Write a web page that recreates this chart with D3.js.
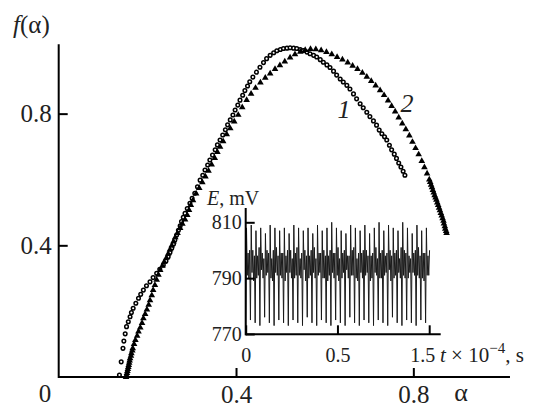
<!DOCTYPE html>
<html>
<head>
<meta charset="utf-8">
<script src="https://cdn.jsdelivr.net/npm/d3@7"></script>
<style>
  body { margin: 0; background: #fff; }
  svg text { font-family: "Liberation Serif", "Times New Roman", serif; fill: #222; }
</style>
</head>
<body>
<div id="vis"></div>
<script>
// curve 1 (open circles): alpha / f(alpha)
const curve1Alpha = [0.137,0.141,0.145,0.147,0.150,0.153,0.157,0.161,0.164,0.168,0.174,0.180,0.185,0.191,0.198,0.206,0.213,0.221,0.228,0.236,
  0.242,0.247,0.251,0.255,0.259,0.262,0.266,0.270,0.274,0.277,0.281,0.285,0.290,0.296,0.301,0.307,0.313,0.319,0.325,0.330,
  0.336,0.341,0.347,0.353,0.358,0.364,0.370,0.376,0.381,0.387,0.393,0.398,0.404,0.409,0.415,0.420,0.426,0.431,0.438,0.446,
  0.454,0.462,0.469,0.477,0.485,0.492,0.500,0.507,0.515,0.522,0.530,0.537,0.545,0.552,0.560,0.567,0.575,0.582,0.590,0.597,
  0.605,0.612,0.620,0.627,0.635,0.642,0.650,0.657,0.665,0.672,0.680,0.687,0.695,0.702,0.710,0.717,0.723,0.729,0.735,0.740,
  0.746,0.751,0.757,0.762,0.767,0.772,0.777,0.781];
const curve1F = [0.006,0.046,0.087,0.109,0.131,0.153,0.168,0.183,0.196,0.209,0.224,0.239,0.251,0.264,0.277,0.289,0.302,0.315,0.327,0.340,
  0.352,0.365,0.378,0.391,0.404,0.416,0.431,0.446,0.459,0.472,0.485,0.497,0.512,0.528,0.543,0.558,0.578,0.598,0.613,0.629,
  0.644,0.659,0.674,0.690,0.705,0.720,0.735,0.751,0.766,0.781,0.796,0.811,0.826,0.841,0.856,0.870,0.884,0.897,0.911,0.926,
  0.941,0.955,0.967,0.977,0.985,0.991,0.995,0.998,0.999,1.000,0.999,0.998,0.995,0.992,0.987,0.982,0.977,0.972,0.964,0.956,
  0.948,0.940,0.929,0.917,0.905,0.896,0.886,0.875,0.860,0.845,0.830,0.818,0.804,0.791,0.778,0.765,0.750,0.739,0.730,0.720,
  0.704,0.690,0.677,0.664,0.650,0.638,0.625,0.613];

// curve 2 (filled triangles)
const curve2Alpha = [0.152,0.153,0.154,0.155,0.156,0.157,0.158,0.159,0.160,0.161,0.163,0.164,0.166,0.167,0.170,0.173,0.177,0.180,0.184,0.188,
  0.191,0.195,0.199,0.203,0.206,0.210,0.213,0.217,0.221,0.225,0.229,0.234,0.238,0.243,0.247,0.251,0.255,0.259,0.263,0.268,
  0.274,0.279,0.285,0.290,0.294,0.298,0.303,0.310,0.317,0.324,0.331,0.338,0.345,0.352,0.358,0.364,0.371,0.379,0.387,0.396,
  0.405,0.414,0.424,0.434,0.444,0.455,0.466,0.477,0.488,0.499,0.510,0.522,0.533,0.545,0.556,0.568,0.580,0.592,0.604,0.616,
  0.628,0.640,0.652,0.663,0.674,0.685,0.695,0.705,0.715,0.725,0.734,0.743,0.751,0.759,0.767,0.775,0.783,0.791,0.798,0.805,
  0.812,0.819,0.825,0.831,0.836,0.838,0.840,0.842,0.844,0.846,0.848,0.850,0.852,0.854,0.856,0.858,0.860,0.862,0.864,0.866,
  0.868,0.869,0.871,0.872,0.874,0.875];
const curve2F = [0.000,0.006,0.012,0.018,0.024,0.030,0.036,0.043,0.050,0.057,0.064,0.072,0.080,0.087,0.100,0.112,0.125,0.138,0.150,0.164,
  0.178,0.191,0.205,0.219,0.233,0.248,0.264,0.279,0.295,0.310,0.325,0.338,0.350,0.362,0.374,0.387,0.399,0.411,0.424,0.437,
  0.452,0.465,0.478,0.492,0.507,0.522,0.537,0.557,0.574,0.591,0.609,0.626,0.645,0.665,0.683,0.699,0.716,0.737,0.755,0.776,
  0.796,0.819,0.841,0.860,0.878,0.894,0.909,0.922,0.935,0.947,0.958,0.970,0.980,0.988,0.993,0.996,0.995,0.992,0.987,0.980,
  0.972,0.964,0.955,0.945,0.935,0.924,0.912,0.899,0.885,0.871,0.856,0.840,0.823,0.806,0.788,0.770,0.752,0.733,0.714,0.695,
  0.676,0.656,0.637,0.618,0.600,0.592,0.584,0.576,0.568,0.560,0.552,0.545,0.538,0.530,0.522,0.514,0.506,0.498,0.490,0.482,
  0.474,0.466,0.458,0.450,0.443,0.437];

// inset: potential E (mV), sampled at a fixed step in t (x 10^-4 s)
const signalStep = 0.0043;
const signalE = [
  773,808,791,799,790,800, 775,809,792,800,789,798, 774,807,790,798,791,801, 773,808,793,799,790,797,
  776,806,791,800,792,799, 774,809,790,797,789,800, 773,808,792,801,791,798, 775,807,791,799,790,799,
  774,808,789,798,792,800, 773,806,792,800,790,797, 775,809,790,799,791,801, 774,808,791,797,790,799,
  773,807,793,800,789,798, 776,808,790,798,791,800, 774,806,792,801,790,797, 773,809,791,799,792,799,
  775,807,790,800,790,798, 774,808,789,798,791,800, 773,810,792,799,790,799, 775,808,791,801,789,797,
  774,807,790,799,792,800, 773,806,793,798,790,798, 776,809,791,800,791,801, 774,808,790,797,789,799,
  773,807,792,799,790,800, 775,809,791,800,792,798, 774,806,789,798,790,799, 773,808,792,801,791,797,
  775,810,790,799,790,800, 774,807,791,798,792,799, 773,809,793,800,789,798, 776,808,790,799,791,800,
  774,807,792,797,790,801, 773,810,791,800,790,799, 775,808,790,798,792,797, 774,806,792,799,791,800,
  773,809,791,801,790,798, 775,807,790,799,789,799, 774,808,791,798,791,800
];

// tick values and labels
const mainXTicks = [0.4, 0.8];
const mainYTicks = [0.4, 0.8];
const insetXTicks = [0, 0.5, 1];
const insetXLabels = ["0", "0.5", "1.5"];
const insetYTicks = [770, 790, 810];

const width = 537, height = 408;
const serif = "Liberation Serif";

const svg = d3.select("#vis")
  .append("svg")
  .attr("width", width)
  .attr("height", height);

// main scales
const x = d3.scaleLinear().domain([0, 1]).range([58.7, 502]);
const y = d3.scaleLinear().domain([0, 1]).range([377, 47.8]);

// axes lines
svg.append("line").attr("x1", x(0)).attr("x2", x(1.018)).attr("y1", y(0)).attr("y2", y(0))
  .attr("stroke", "#000").attr("stroke-width", 2);
svg.append("line").attr("x1", x(0)).attr("x2", x(0)).attr("y1", y(0) + 1).attr("y2", y(1.011))
  .attr("stroke", "#000").attr("stroke-width", 2);

svg.append("g")
  .attr("transform", `translate(0,${y(0)})`)
  .call(d3.axisBottom(x).tickValues(mainXTicks).tickSize(-9).tickPadding(8).tickFormat(d3.format(".1f")))
  .attr("font-family", serif)
  .call(g => g.select(".domain").remove())
  .call(g => g.selectAll(".tick line").attr("stroke", "#000").attr("stroke-width", 2))
  .call(g => g.selectAll(".tick text").attr("font-size", 25));

svg.append("g")
  .attr("transform", `translate(${x(0)},0)`)
  .call(d3.axisLeft(y).tickValues(mainYTicks).tickSize(-9).tickPadding(7).tickFormat(d3.format(".1f")))
  .attr("font-family", serif)
  .call(g => g.select(".domain").remove())
  .call(g => g.selectAll(".tick line").attr("stroke", "#000").attr("stroke-width", 2))
  .call(g => g.selectAll(".tick text").attr("font-size", 25));

svg.append("text").attr("x", 45).attr("y", 402).attr("text-anchor", "middle")
  .attr("font-size", 25).text("0");
svg.append("text").attr("x", 461).attr("y", 401).attr("text-anchor", "middle")
  .attr("font-size", 26).text("α");

const fLabel = svg.append("text").attr("x", 13).attr("y", 33).attr("font-size", 25);
fLabel.append("tspan").attr("font-style", "italic").text("f");
fLabel.append("tspan").text("(α)");

// curves
const c1 = curve1Alpha.map((a, i) => [a, curve1F[i]]);
const c2 = curve2Alpha.map((a, i) => [a, curve2F[i]]);

svg.append("g")
  .selectAll("circle")
  .data(c1)
  .join("circle")
  .attr("cx", d => x(d[0]))
  .attr("cy", d => y(d[1]))
  .attr("r", 1.8)
  .attr("fill", "#fff")
  .attr("stroke", "#000")
  .attr("stroke-width", 1.5);

const tri = d3.symbol().type(d3.symbolTriangle).size(19);
svg.append("g")
  .selectAll("path")
  .data(c2)
  .join("path")
  .attr("transform", d => `translate(${x(d[0])},${y(d[1])})`)
  .attr("d", tri)
  .attr("fill", "#000");

svg.append("text").attr("x", 344).attr("y", 118).attr("text-anchor", "middle")
  .attr("font-size", 26).attr("font-style", "italic").text("1");
svg.append("text").attr("x", 407).attr("y", 112).attr("text-anchor", "middle")
  .attr("font-size", 26).attr("font-style", "italic").text("2");

// inset
const xi = d3.scaleLinear().domain([0, 1]).range([245.7, 429.2]);
const yi = d3.scaleLinear().domain([770, 810]).range([334, 222.3]);

const signal = signalE.map((e, i) => [i * signalStep, e]);
svg.append("path")
  .datum(signal)
  .attr("fill", "none")
  .attr("stroke", "#1a1a1a")
  .attr("stroke-width", 1)
  .attr("d", d3.line().x(d => xi(d[0])).y(d => yi(d[1])));

svg.append("line").attr("x1", xi(0)).attr("x2", 440.7).attr("y1", 334.3).attr("y2", 334.3)
  .attr("stroke", "#000").attr("stroke-width", 2);
svg.append("line").attr("x1", xi(0)).attr("x2", xi(0)).attr("y1", 335.3).attr("y2", 208)
  .attr("stroke", "#000").attr("stroke-width", 2);

svg.append("g")
  .attr("transform", `translate(0,334.3)`)
  .call(d3.axisBottom(xi).tickValues(insetXTicks).tickSize(-9).tickPadding(13.5)
    .tickFormat((d, i) => insetXLabels[i]))
  .attr("font-family", serif)
  .call(g => g.select(".domain").remove())
  .call(g => g.selectAll(".tick line").attr("stroke", "#000").attr("stroke-width", 2))
  .call(g => g.selectAll(".tick text").attr("font-size", 20).attr("dx", (d, i) => i === 2 ? -7 : 0));

svg.append("g")
  .attr("transform", `translate(${xi(0)},0)`)
  .call(d3.axisLeft(yi).tickValues(insetYTicks).tickSize(-9).tickPadding(4))
  .attr("font-family", serif)
  .call(g => g.select(".domain").remove())
  .call(g => g.selectAll(".tick line").attr("stroke", "#000").attr("stroke-width", 2))
  .call(g => g.selectAll(".tick text").attr("font-size", 20));

const eLabel = svg.append("text").attr("x", 207).attr("y", 205).attr("font-size", 20);
eLabel.append("tspan").attr("font-style", "italic").text("E");
eLabel.append("tspan").text(", mV");

const tLabel = svg.append("text").attr("x", 440).attr("y", 362).attr("font-size", 21);
tLabel.append("tspan").attr("font-style", "italic").text("t");
tLabel.append("tspan").text(" × 10");
tLabel.append("tspan").attr("font-size", 15).attr("dy", -9).text("−4");
tLabel.append("tspan").attr("dy", 9).text(", s");
</script>
</body>
</html>
